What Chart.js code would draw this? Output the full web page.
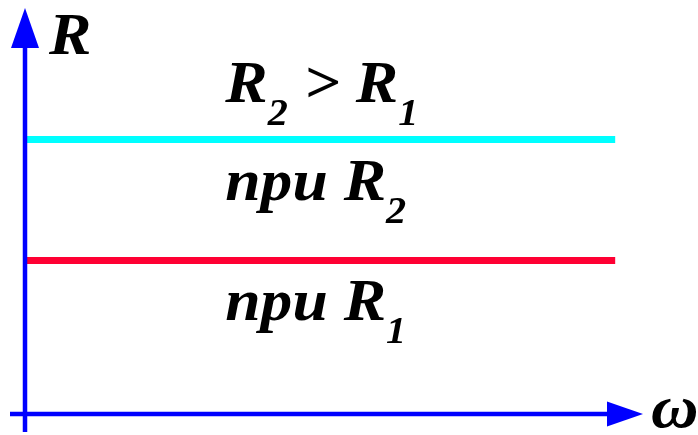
<!DOCTYPE html>
<html>
<head>
<meta charset="utf-8">
<script src="https://cdn.jsdelivr.net/npm/chart.js@4/dist/chart.umd.min.js"></script>
<style>
html,body{margin:0;padding:0;background:#fff;}
#wrap{width:698px;height:435px;}
</style>
</head>
<body>
<div id="wrap"><canvas id="c" width="698" height="435"></canvas></div>
<script>
// Data
const omegaRange = [0, 95.5];        // ω span of both lines
const seriesNames = ['R1', 'R2'];
const R1 = [37.8, 37.8];             // resistance level R1 (constant vs ω)
const R2 = [67.6, 67.6];             // resistance level R2 (constant vs ω)
const axisTitles = { y: 'R', x: 'ω' };
// Text labels: runs of [text, isSubscript], anchored at (x, y) in data units
const textLabels = [
  { x: 32.4, y: 76.8, runs: [['R', 0], ['2', 1], [' > ', 0], ['R', 0], ['1', 1]] },
  { x: 32.4, y: 52.7, runs: [['при ', 0], ['R', 0], ['2', 1]] },
  { x: 32.4, y: 23.2, runs: [['при ', 0], ['R', 0], ['1', 1]] }
];

const BLUE = '#0000ff';
const FAM = '"Liberation Serif", "Times New Roman", serif';
const FONT_BIG = 'italic bold 60px ' + FAM;
const FONT_SUB = 'italic bold 38px ' + FAM;
const STRETCH = 1.06;

const decor = {
  id: 'decor',
  afterDatasetsDraw(chart) {
    const ctx = chart.ctx;
    const a = chart.chartArea;
    const xs = chart.scales.x, ys = chart.scales.y;
    ctx.save();
    ctx.strokeStyle = BLUE;
    ctx.fillStyle = BLUE;
    ctx.lineWidth = 4.5;
    ctx.lineCap = 'butt';
    ctx.beginPath();
    ctx.moveTo(a.left, a.bottom + 18);
    ctx.lineTo(a.left, a.top + 38);
    ctx.stroke();
    ctx.beginPath();
    ctx.moveTo(a.left, a.top);
    ctx.lineTo(a.left - 14, a.top + 40);
    ctx.lineTo(a.left + 14, a.top + 40);
    ctx.closePath();
    ctx.fill();
    ctx.beginPath();
    ctx.moveTo(a.left - 15, a.bottom);
    ctx.lineTo(a.right - 34, a.bottom);
    ctx.stroke();
    ctx.beginPath();
    ctx.moveTo(a.right, a.bottom);
    ctx.lineTo(a.right - 36, a.bottom - 12.5);
    ctx.lineTo(a.right - 36, a.bottom + 12.5);
    ctx.closePath();
    ctx.fill();

    ctx.fillStyle = '#000';
    ctx.textBaseline = 'alphabetic';
    ctx.textAlign = 'left';

    function stretched(text, x, y, font) {
      ctx.save();
      ctx.font = font;
      ctx.translate(x, y);
      ctx.scale(STRETCH, 1);
      ctx.fillText(text, 0, 0);
      const w = ctx.measureText(text).width * STRETCH;
      ctx.restore();
      return w;
    }

    stretched(axisTitles.y, a.left + 24, a.top + 46, FONT_BIG);
    stretched(axisTitles.x, a.right + 8, a.bottom + 13, 'italic bold 62px ' + FAM);

    textLabels.forEach(l => {
      let px = xs.getPixelForValue(l.x);
      const py = ys.getPixelForValue(l.y);
      l.runs.forEach(([t, sub]) => {
        px += stretched(t, px, py + (sub ? 23 : 0), sub ? FONT_SUB : FONT_BIG);
      });
    });
    ctx.restore();
  }
};

new Chart(document.getElementById('c'), {
  type: 'line',
  data: {
    datasets: [
      {
        label: seriesNames[0],
        data: omegaRange.map((w, i) => ({ x: w, y: R1[i] })),
        borderColor: '#ff0033',
        borderWidth: 7,
        borderCapStyle: 'butt',
        pointRadius: 0,
        fill: false
      },
      {
        label: seriesNames[1],
        data: omegaRange.map((w, i) => ({ x: w, y: R2[i] })),
        borderColor: '#00ffff',
        borderWidth: 7,
        borderCapStyle: 'butt',
        pointRadius: 0,
        fill: false
      }
    ]
  },
  options: {
    responsive: false,
    animation: false,
    devicePixelRatio: 1,
    layout: { padding: { left: 25, top: 8, right: 55, bottom: 21 } },
    plugins: { legend: { display: false }, tooltip: { enabled: false } },
    scales: {
      x: { type: 'linear', min: 0, max: 100, display: false },
      y: { type: 'linear', min: 0, max: 100, display: false }
    }
  },
  plugins: [decor]
});
</script>
</body>
</html>
